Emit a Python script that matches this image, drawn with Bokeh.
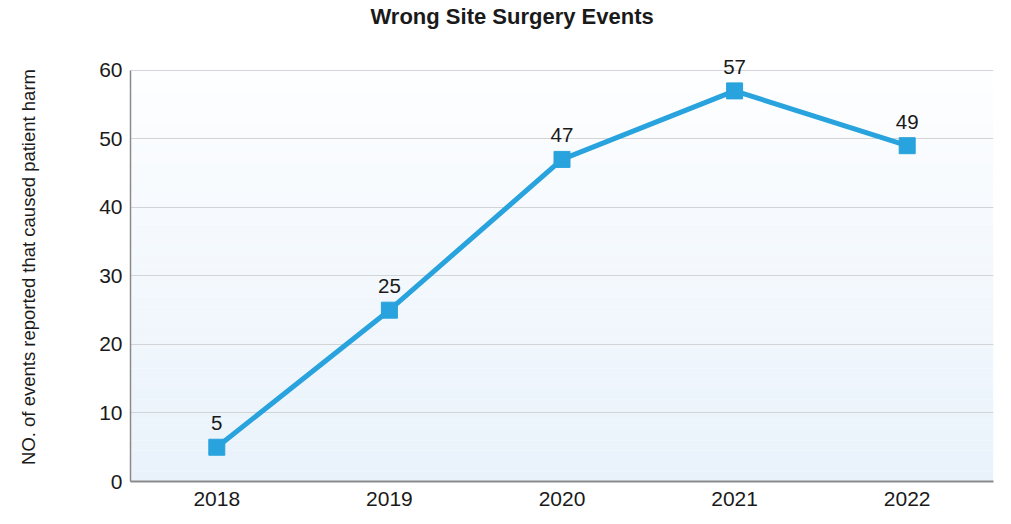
from bokeh.plotting import figure
from bokeh.models import ColumnDataSource, LabelSet, BoxAnnotation, Range1d, FactorRange, Title
from bokeh.core.properties import value
from bokeh.embed import file_html
from bokeh.resources import INLINE

years = ["2018", "2019", "2020", "2021", "2022"]
events = [5, 25, 47, 57, 49]
y_ticks = [0, 10, 20, 30, 40, 50, 60]
y_max = 60
title_text = "Wrong Site Surgery Events"
y_label = "NO. of events reported that caused patient harm"

src = ColumnDataSource(data=dict(x=years, y=events, lbl=[str(v) for v in events]))

# frame extends slightly above 60 so the top data label is not clipped
p = figure(width=995, height=508, x_range=FactorRange(*years, range_padding=0),
           y_range=Range1d(0, 62.6), output_backend="svg", toolbar_location=None,
           min_border_left=130, min_border_right=2, min_border_top=49, min_border_bottom=25)

p.title.text = title_text
p.title.align = "left"
p.title.offset = 240
p.title.standoff = 2
p.title.text_font = "Liberation Sans"
p.title.text_font_size = "22px"
p.title.text_font_style = "bold"
p.title.text_color = "#1a1a1a"

# spacer between title and plot area
spacer = Title(text=" ", text_font_size="1px", standoff=20)
p.add_layout(spacer, "above")

p.outline_line_color = None
p.background_fill_color = "#ffffff"
p.border_fill_color = "#ffffff"

# subtle vertical gradient background (0..60 only)
n = 40
c_top = (253, 254, 255)
c_bot = (233, 242, 251)
for i in range(n):
    t = (i + 0.5) / n
    col = tuple(int(round(c_bot[k] + (c_top[k] - c_bot[k]) * t)) for k in range(3))
    p.add_layout(BoxAnnotation(bottom=y_max * i / n, top=y_max * (i + 1) / n,
                               fill_color="#%02x%02x%02x" % col, fill_alpha=1.0,
                               line_color=None, level="image"))

p.xgrid.grid_line_color = None
p.ygrid.grid_line_color = "#d2d4d8"
p.ygrid.grid_line_width = 1.2
p.ygrid.bounds = (0, y_max)
p.yaxis.ticker = y_ticks
p.yaxis.bounds = (0, y_max)

for ax in (p.xaxis, p.yaxis):
    ax.major_tick_line_color = None
    ax.minor_tick_line_color = None
    ax.major_label_text_font = "Liberation Sans"
    ax.major_label_text_font_size = "21px"
    ax.major_label_text_color = "#1a1a1a"

p.yaxis.axis_line_color = "#8a8a8a"
p.yaxis.axis_line_width = 1.5
p.xaxis.axis_line_color = "#8a8a8a"
p.xaxis.axis_line_width = 2
p.yaxis.major_label_standoff = 2
p.xaxis.major_label_standoff = 4

p.yaxis.axis_label = y_label
p.yaxis.axis_label_text_font = "Liberation Sans"
p.yaxis.axis_label_text_font_size = "18.5px"
p.yaxis.axis_label_text_font_style = "normal"
p.yaxis.axis_label_text_color = "#1a1a1a"
p.yaxis.axis_label_standoff = 57

blue = "#29a3dd"
p.line("x", "y", source=src, line_color=blue, line_width=5)
p.scatter("x", "y", source=src, marker="square", size=16, fill_color=blue, line_color=blue)

labels = LabelSet(x="x", y="y", text="lbl", source=src, text_align="center",
                  text_baseline="alphabetic", y_offset=17, text_font=value("Liberation Sans"),
                  text_font_size="20.5px", text_color="#1a1a1a")
p.add_layout(labels)

open("out.html", "w").write(file_html(p, INLINE))
